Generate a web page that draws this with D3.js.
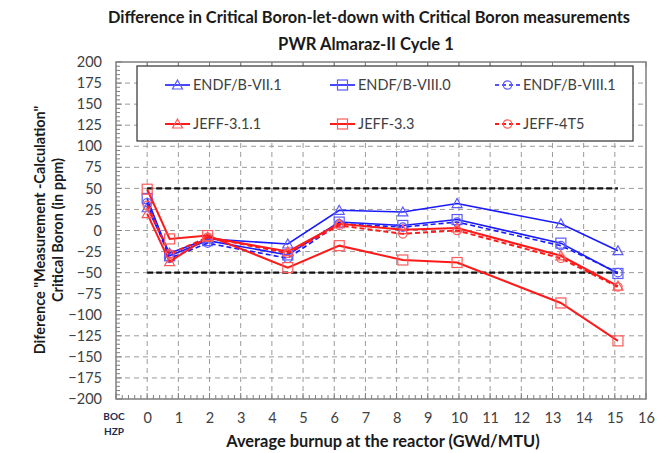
<!DOCTYPE html>
<html><head><meta charset="utf-8">
<script src="https://cdn.jsdelivr.net/npm/d3@7"></script>
<style>body{margin:0;background:#fff}svg{display:block}text{font-family:Lato,"Open Sans",sans-serif}</style>
</head><body><svg id="c" width="661" height="453"></svg>
<script>
const burnup = [0, 0.72, 1.94, 4.51, 6.16, 8.2, 9.94, 13.27, 15.1];
const seriesNames = ["ENDF/B-VII.1","ENDF/B-VIII.0","ENDF/B-VIII.1","JEFF-3.1.1","JEFF-3.3","JEFF-4T5"];
const endf71  = [27, -27, -10, -16, 24, 22, 32, 8, -24];
const endf80  = [38, -30, -12, -29, 10, 6, 13, -15, -51];
const endf81  = [33, -33, -15, -33, 8, 4, 10, -18, -50];
const jeff311 = [20, -37, -8, -25, 8, 1, 3, -30, -66];
const jeff33  = [49, -10, -6, -44, -18, -35, -38, -86, -131];
const jeff4t5 = [30, -28, -8, -27, 6, -4, 0, -33, -67];
const yTicks = d3.range(-200, 201, 25);
const xTicks = d3.range(0, 17, 1);
const limits = [50, -50];

const svg = d3.select("#c");
const L=116, R=646, T=62, B=399;
const x = d3.scaleLinear().domain([-1,16]).range([L,R]);
const y = d3.scaleLinear().domain([-200,200]).range([B,T]);

const blue="#1a1aff", blueM="#5a5aff", red="#ff1a1a", redM="#ff5a5a";
const styles = [
 {c:blue,m:blueM,s:"tri",dash:null},
 {c:blue,m:blueM,s:"sq",dash:null},
 {c:blue,m:blueM,s:"circ",dash:"5,3"},
 {c:red,m:redM,s:"tri",dash:null},
 {c:red,m:redM,s:"sq",dash:null},
 {c:red,m:redM,s:"circ",dash:"5,3"}
];
const data = [endf71,endf80,endf81,jeff311,jeff33,jeff4t5];

// grid
const g = svg.append("g");
g.selectAll(".hg").data(yTicks.filter(v=>v>-200&&v<200)).enter().append("line")
 .attr("x1",L).attr("x2",R).attr("y1",d=>y(d)).attr("y2",d=>y(d))
 .attr("stroke","#9a9a9a").attr("stroke-dasharray","5,4").attr("stroke-width",1);
g.selectAll(".vg").data(xTicks.filter(v=>v<16)).enter().append("line")
 .attr("x1",d=>x(d)).attr("x2",d=>x(d)).attr("y1",T).attr("y2",B)
 .attr("stroke","#9a9a9a").attr("stroke-dasharray","5,4").attr("stroke-width",1);

// limit lines
g.selectAll(".lim").data(limits).enter().append("line")
 .attr("x1",x(0)).attr("x2",x(15.1)).attr("y1",d=>y(d)).attr("y2",d=>y(d))
 .attr("stroke","#111").attr("stroke-width",2.2).attr("stroke-dasharray","6,3");

// axes frame
svg.append("rect").attr("x",L).attr("y",T).attr("width",R-L).attr("height",B-T)
 .attr("fill","none").attr("stroke","#7f7f7f").attr("stroke-width",1.5);

// y axis ticks
const yAxis = d3.axisLeft(y).tickValues(yTicks).tickSize(0).tickPadding(14);
const ya = svg.append("g").attr("transform",`translate(${L},0)`).call(yAxis);
ya.select(".domain").remove();
ya.selectAll("text").attr("font-size",14.5).attr("fill","#404040");
const yMinor = d3.range(-200,201,5);
svg.append("g").selectAll("line").data(yMinor).enter().append("line")
 .attr("x1",L).attr("x2",d=>L+(d%25===0?6:4)).attr("y1",d=>y(d)).attr("y2",d=>y(d))
 .attr("stroke","#7f7f7f").attr("stroke-width",1);

// x axis
const xAxis = d3.axisBottom(x).tickValues(xTicks).tickSize(0).tickPadding(14).tickFormat(d3.format("d"));
const xa = svg.append("g").attr("transform",`translate(0,${B})`).call(xAxis);
xa.select(".domain").remove();
xa.selectAll("text").attr("font-size",14.5).attr("fill","#404040");
const xMinor = d3.range(-1,16.001,0.2);
svg.append("g").selectAll("line").data(xMinor).enter().append("line")
 .attr("x1",d=>x(d)).attr("x2",d=>x(d)).attr("y1",B).attr("y2",(d,i)=>B-(i%5===0?6:4))
 .attr("stroke","#7f7f7f").attr("stroke-width",1);
svg.append("g").selectAll("line").data(xTicks).enter().append("line")
 .attr("x1",d=>x(d)).attr("x2",d=>x(d)).attr("y1",T).attr("y2",T+5)
 .attr("stroke","#7f7f7f").attr("stroke-width",1);
svg.append("text").attr("x",x(-1)-2).attr("y",420).attr("text-anchor","middle")
 .attr("font-family","Liberation Sans,Arial").attr("font-weight","bold").attr("font-size",10).attr("fill","#1f2a50").text("BOC");
svg.append("text").attr("x",x(-1)-2).attr("y",435).attr("text-anchor","middle")
 .attr("font-family","Liberation Sans,Arial").attr("font-weight","bold").attr("font-size",10).attr("fill","#1f2a50").text("HZP");

function marker(sel, shape, cx, cy, col){
  if(shape==="tri"){
    sel.append("path").attr("d",`M${cx},${cy-5}L${cx+5},${cy+4}L${cx-5},${cy+4}Z`)
      .attr("fill","none").attr("stroke",col).attr("stroke-width",1.2);
  } else if(shape==="sq"){
    sel.append("rect").attr("x",cx-5).attr("y",cy-5).attr("width",10).attr("height",10)
      .attr("fill","none").attr("stroke",col).attr("stroke-width",1.2);
  } else {
    sel.append("circle").attr("cx",cx).attr("cy",cy).attr("r",4.2)
      .attr("fill","none").attr("stroke",col).attr("stroke-width",1.2);
  }
}

const line = d3.line().x((d,i)=>x(burnup[i])).y(d=>y(d));
const order=[0,1,2,3,5,4];
order.forEach(k=>{
  const st=styles[k];
  const gg=svg.append("g");
  gg.append("path").attr("d",line(data[k])).attr("fill","none").attr("stroke",st.c)
    .attr("stroke-width",k>=3?2:1.6).attr("stroke-dasharray",st.dash);
  data[k].forEach((v,i)=>marker(gg,st.s,x(burnup[i]),y(v),st.m));
});

// legend
const lg = svg.append("g");
lg.append("rect").attr("x",137).attr("y",66).attr("width",496).attr("height",75)
  .attr("fill","#fff").attr("stroke","#404040").attr("stroke-width",1.3);
const colX=[165,330,495], rowY=[85,124];
seriesNames.forEach((n,k)=>{
  const st=styles[k], lx=colX[k%3], ly=rowY[Math.floor(k/3)];
  lg.append("line").attr("x1",lx).attr("x2",lx+25).attr("y1",ly).attr("y2",ly)
    .attr("stroke",st.c).attr("stroke-width",k>=3?2:1.6).attr("stroke-dasharray",st.dash?"4,3":null);
  marker(lg,st.s,lx+12.5,ly,st.m);
  lg.append("text").attr("x",lx+28).attr("y",ly+5).attr("font-size",14.5).attr("fill","#404040").text(n);
});

// titles
svg.append("text").attr("x",369).attr("y",23).attr("text-anchor","middle").attr("font-size",16.4)
 .attr("font-weight","bold").attr("fill","#1a1a1a").text("Difference in Critical Boron-let-down with Critical Boron measurements");
svg.append("text").attr("x",366).attr("y",50).attr("text-anchor","middle").attr("font-size",16.6)
 .attr("font-weight","bold").attr("fill","#1a1a1a").text("PWR Almaraz-II Cycle 1");
svg.append("text").attr("x",383).attr("y",447).attr("text-anchor","middle").attr("font-size",16.4)
 .attr("font-weight","bold").attr("fill","#1a1a1a").text("Average burnup at the reactor (GWd/MTU)");
const yt = svg.append("text").attr("transform","translate(45,230) rotate(-90)").attr("text-anchor","middle")
 .attr("font-size",14.5).attr("font-weight","bold").attr("fill","#1a1a1a");
yt.append("tspan").attr("x",0).attr("y",0).text("Diference \"Measurement -Calculation\"");
yt.append("tspan").attr("x",0).attr("y",18).text("Critical Boron (in ppm)");
</script></body></html>
